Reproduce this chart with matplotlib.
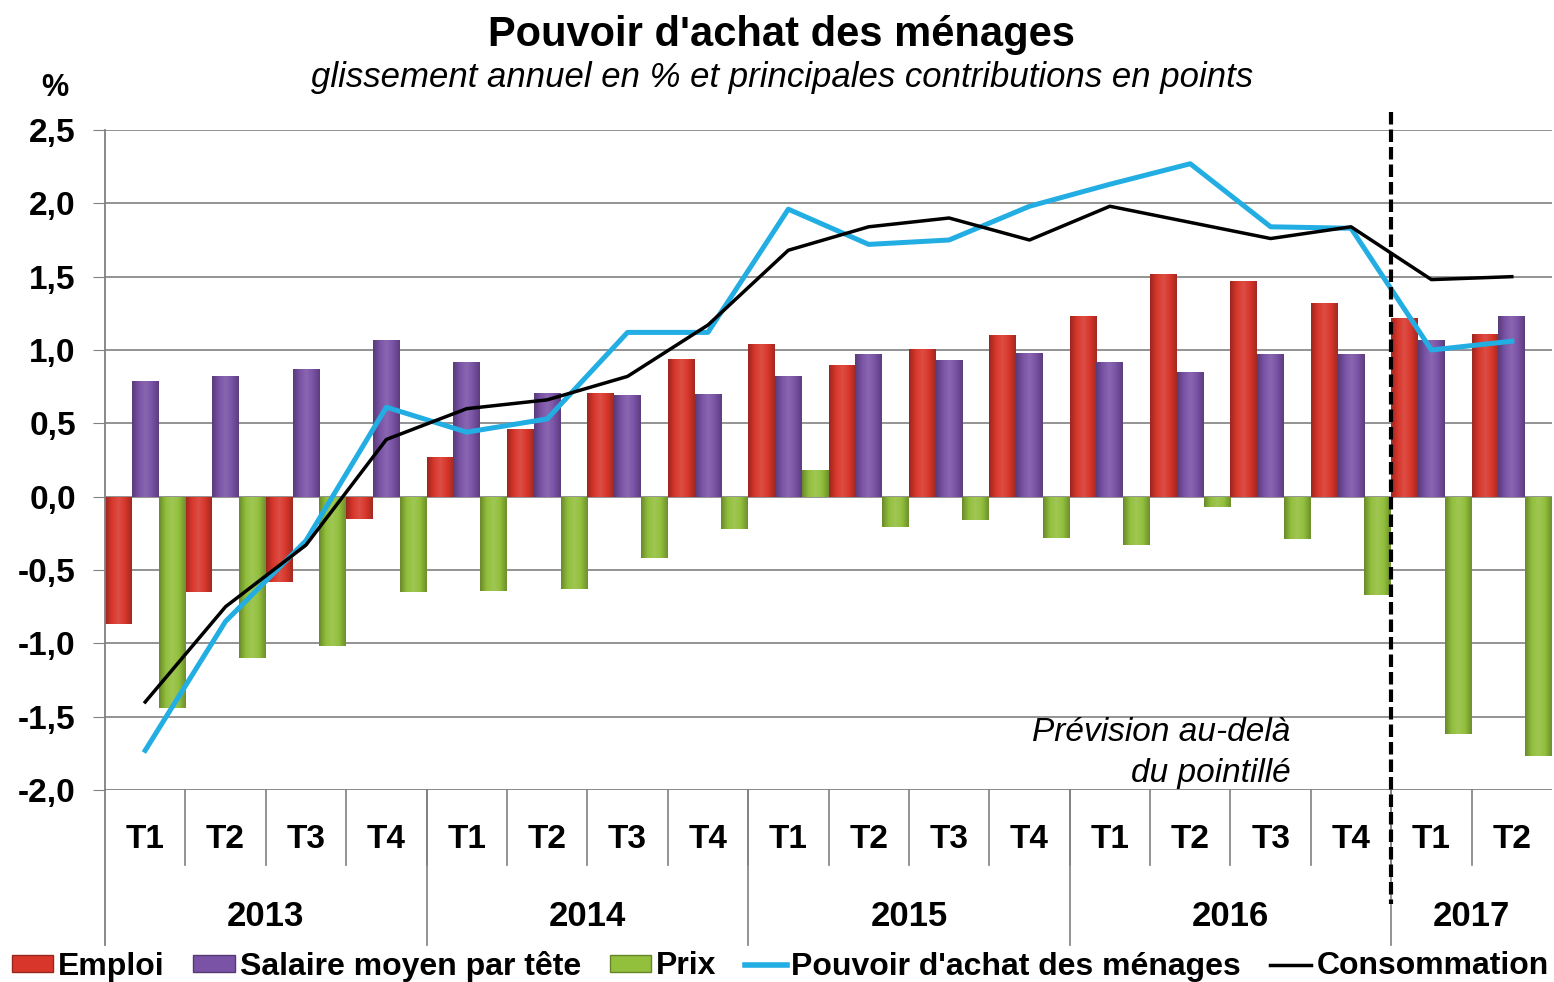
import matplotlib
matplotlib.use("Agg")
import matplotlib.pyplot as plt
import numpy as np
from matplotlib.colors import LinearSegmentedColormap, to_rgb
from matplotlib.lines import Line2D
from matplotlib.patches import Patch

plt.rcParams['font.family'] = ['Liberation Sans', 'DejaVu Sans']

quarters = ['T1', 'T2', 'T3', 'T4'] * 4 + ['T1', 'T2']
years = ['2013', '2014', '2015', '2016', '2017']
year_len = [4, 4, 4, 4, 2]

emploi = [-0.87, -0.65, -0.58, -0.15, 0.27, 0.46, 0.71, 0.94, 1.04, 0.90,
          1.01, 1.10, 1.23, 1.52, 1.47, 1.32, 1.22, 1.11]
salaire = [0.79, 0.82, 0.87, 1.07, 0.92, 0.71, 0.69, 0.70, 0.82, 0.97,
           0.93, 0.98, 0.92, 0.85, 0.97, 0.97, 1.07, 1.23]
prix = [-1.44, -1.10, -1.02, -0.65, -0.64, -0.63, -0.42, -0.22, 0.18, -0.21,
        -0.16, -0.28, -0.33, -0.07, -0.29, -0.67, -1.62, -1.77]
pouvoir = [-1.73, -0.85, -0.30, 0.61, 0.44, 0.53, 1.12, 1.12, 1.96, 1.72,
           1.75, 1.98, 2.13, 2.27, 1.84, 1.83, 1.00, 1.06]
conso = [-1.40, -0.75, -0.33, 0.39, 0.60, 0.66, 0.82, 1.17, 1.68, 1.84,
         1.90, 1.75, 1.98, 1.87, 1.76, 1.84, 1.48, 1.50]

C_RED = '#d8362b'
C_PUR = '#7a52a6'
C_GRN = '#92bf3c'
C_CYAN = '#23aee3'


def shade(col, f):
    r, g, b = to_rgb(col)
    if f < 1:
        return (r * f, g * f, b * f)
    return (r + (1 - r) * (f - 1), g + (1 - g) * (f - 1), b + (1 - b) * (f - 1))


def gradient_bars(ax, bars, col):
    cmap = LinearSegmentedColormap.from_list(
        'g', [shade(col, 0.72), shade(col, 1.0), shade(col, 1.12), shade(col, 1.0), shade(col, 0.75)])
    grad = np.linspace(0, 1, 64).reshape(1, -1)
    for p in bars.patches:
        x, y = p.get_x(), p.get_y()
        w, h = p.get_width(), p.get_height()
        im = ax.imshow(grad, cmap=cmap, aspect='auto', extent=(x, x + w, y, y + h),
                       zorder=2, interpolation='bicubic')
        im.set_clip_path(p)


fig = plt.figure(figsize=(15.54, 9.82), dpi=100)
ax = fig.add_axes([105 / 1554, 1 - 790 / 982, 1447 / 1554, 660 / 982])

n = len(quarters)
x = np.arange(n)
w = 1 / 3
b1 = ax.bar(x + w / 2, emploi, w, color=C_RED, zorder=2, linewidth=0)
b2 = ax.bar(x + 1.5 * w, salaire, w, color=C_PUR, zorder=2, linewidth=0)
b3 = ax.bar(x + 2.5 * w, prix, w, color=C_GRN, zorder=2, linewidth=0)
gradient_bars(ax, b1, C_RED)
gradient_bars(ax, b2, C_PUR)
gradient_bars(ax, b3, C_GRN)

ax.plot(x + 0.5, pouvoir, color=C_CYAN, lw=3.6, zorder=4)
ax.plot(x + 0.5, conso, color='black', lw=2.5, zorder=5)

ax.set_xlim(0, n)
ax.set_ylim(-2.0, 2.5)
ax.set_yticks(np.arange(-2.0, 2.51, 0.5))
ax.set_yticklabels([f'{v:.1f}'.replace('.', ',') for v in np.arange(-2.0, 2.51, 0.5)],
                   fontsize=24, fontweight='bold')
ax.tick_params(axis='y', length=9, color='#808080', pad=12)
ax.set_xticks([])
ax.grid(axis='y', color='#8a8a8a', lw=1.3, zorder=1)
for s in ['top', 'right', 'bottom']:
    ax.spines[s].set_visible(False)
ax.spines['left'].set_color('#808080')
ax.spines['left'].set_linewidth(1.3)
ax.axhline(-2.0, color='#8a8a8a', lw=1.3, zorder=1)

# two-level category axis
for i in range(1, n):
    ax.plot([i, i], [-2.0, -2.51], color='#808080', lw=1.2, clip_on=False)
ax.plot([0, 0], [-2.0, -3.06], color='#808080', lw=1.3, clip_on=False)
for i, q in enumerate(quarters):
    ax.text(i + 0.5, -2.34, q, ha='center', va='center', fontsize=24, fontweight='bold')
pos = 0
for yr, ln in zip(years, year_len):
    if pos > 0:
        ax.plot([pos, pos], [-2.0, -3.06], color='#808080', lw=1.2, clip_on=False)
    ax.text(pos + ln / 2, -2.86, yr, ha='center', va='center', fontsize=25, fontweight='bold')
    pos += ln

# forecast separator
ax.plot([16, 16], [2.62, -2.78], color='black', lw=3, ls=(0, (3, 1.2)), clip_on=False, zorder=6)
ax.text(14.75, -1.61, 'Prévision au-delà', ha='right', va='center', fontsize=24, style='italic')
ax.text(14.75, -1.89, 'du pointillé', ha='right', va='center', fontsize=24, style='italic')

fig.text(782 / 1554, 1 - 35 / 982, "Pouvoir d'achat des ménages", ha='center', va='center',
         fontsize=30, fontweight='bold')
fig.text(782 / 1554, 1 - 77 / 982, "glissement annuel en % et principales contributions en points",
         ha='center', va='center', fontsize=25, style='italic')
fig.text(55 / 1554, 1 - 88 / 982, '%', ha='center', va='center', fontsize=22, fontweight='bold')

handles = [Patch(facecolor=C_RED, edgecolor=shade(C_RED, 0.7)),
           Patch(facecolor=C_PUR, edgecolor=shade(C_PUR, 0.7)),
           Patch(facecolor=C_GRN, edgecolor=shade(C_GRN, 0.7)),
           Line2D([], [], color=C_CYAN, lw=4),
           Line2D([], [], color='black', lw=2.5)]
labels = ['Emploi', 'Salaire moyen par tête', 'Prix', "Pouvoir d'achat des ménages", 'Consommation']
fig.legend(handles, labels, loc='center', bbox_to_anchor=(0.502, 1 - 966 / 982), ncol=5,
           frameon=False, prop={'size': 23, 'weight': 'bold'}, handlelength=1.3,
           handleheight=0.45, handletextpad=0.15, columnspacing=0.9, borderaxespad=0,
           borderpad=0)

fig.savefig('out.png', dpi=100)
